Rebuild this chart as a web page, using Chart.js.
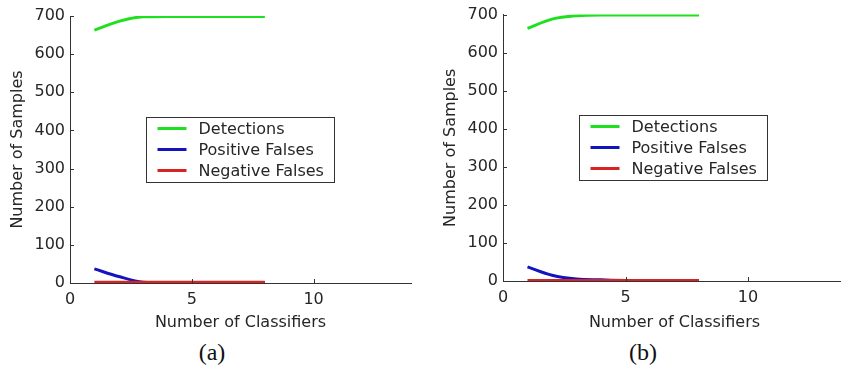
<!DOCTYPE html>
<html>
<head>
<meta charset="utf-8">
<script src="https://cdn.jsdelivr.net/npm/chart.js@4.4.1/dist/chart.umd.min.js"></script>
<style>
  html, body { margin: 0; padding: 0; background: #fff; overflow: hidden; width: 841px; height: 373px; }
  .panel { position: absolute; top: 0; height: 373px; overflow: hidden; }
  .caption { position: absolute; font-family: "Liberation Serif", serif; font-size: 24px; color: #111; transform: translateX(-50%); }
</style>
</head>
<body>
<div class="panel" style="left:0;width:420px;">
  <canvas id="plotA" width="420" height="335"></canvas>
</div>
<div class="panel" style="left:420px;width:421px;">
  <canvas id="plotB" width="430" height="335"></canvas>
</div>
<div class="caption" style="left:212px;top:339px;">(a)</div>
<div class="caption" style="left:643px;top:339px;">(b)</div>
<script>
// data
var classifiers = [1, 2, 3, 4, 5, 6, 7, 8];
var seriesNames = ["Detections", "Positive Falses", "Negative Falses"];
var seriesColors = ["rgb(30,225,30)", "rgb(20,20,190)", "rgb(215,35,35)"];

var detectionsA = [663, 686, 698, 699, 699, 699, 699, 699];
var posFalsesA = [37, 17, 2, 0, 0, 0, 0, 0];
var negFalsesA = [2, 2, 2, 2, 2, 2, 2, 2];

var detectionsB = [664, 688, 697, 699, 699, 699, 699, 699];
var posFalsesB = [37, 15, 5, 3, 1, 0, 0, 0];
var negFalsesB = [1, 1, 1, 1, 1, 1, 1, 1];

var xTicks = [0, 5, 10];
var yTicks = [0, 100, 200, 300, 400, 500, 600, 700];

var textColor = "#262626";
var fontFamily = "'DejaVu Sans', sans-serif";

function toPoints(ys) {
    return classifiers.map(function (x, i) { return { x: x, y: ys[i] }; });
}

// inward tick marks
var innerTicks = {
    id: 'innerTicks',
    afterDraw: function (chart) {
        var ctx = chart.ctx;
        var xs = chart.scales.x, ys = chart.scales.y;
        var area = chart.chartArea;
        ctx.save();
        ctx.strokeStyle = "#333";
        ctx.lineWidth = 1;
        ctx.beginPath();
        xTicks.forEach(function (v) {
            var px = Math.round(xs.getPixelForValue(v)) + 0.5;
            ctx.moveTo(px, area.bottom);
            ctx.lineTo(px, area.bottom - 4);
        });
        yTicks.forEach(function (v) {
            var py = Math.round(ys.getPixelForValue(v)) + 0.5;
            ctx.moveTo(area.left, py);
            ctx.lineTo(area.left + 4, py);
        });
        ctx.stroke();
        ctx.restore();
    }
};

// boxed legend inside the plot
var boxLegend = {
    id: 'boxLegend',
    afterDraw: function (chart) {
        var ctx = chart.ctx;
        var area = chart.chartArea;
        var left = Math.round(area.left + 0.222 * (area.right - area.left)) + 0.5;
        var top = Math.round(area.top + 0.378 * (area.bottom - area.top)) + 0.5;
        ctx.save();
        ctx.font = "16px " + fontFamily;
        var widest = 0;
        chart.data.datasets.forEach(function (ds) {
            widest = Math.max(widest, ctx.measureText(ds.label).width);
        });
        var w = Math.round(52 + widest + 11), h = 65;
        ctx.fillStyle = "#fff";
        ctx.fillRect(left, top, w, h);
        ctx.strokeStyle = "#333";
        ctx.lineWidth = 1;
        ctx.strokeRect(left, top, w, h);
        ctx.textBaseline = "middle";
        chart.data.datasets.forEach(function (ds, i) {
            var cy = top + 11 + i * 21;
            ctx.strokeStyle = ds.borderColor;
            ctx.lineWidth = 3;
            ctx.beginPath();
            ctx.moveTo(left + 11, cy);
            ctx.lineTo(left + 40, cy);
            ctx.stroke();
            ctx.fillStyle = textColor;
            ctx.fillText(ds.label, left + 52, cy + 1);
        });
        ctx.restore();
    }
};

function makeChart(canvasId, series, geom) {
    var datasets = series.map(function (ys, i) {
        return {
            label: seriesNames[i],
            data: toPoints(ys),
            borderColor: seriesColors[i],
            borderWidth: 3,
            pointRadius: 0,
            fill: false,
            cubicInterpolationMode: 'monotone',
            order: [2, 1, 0][i]
        };
    });
    return new Chart(document.getElementById(canvasId).getContext("2d"), {
        type: 'line',
        data: { datasets: datasets },
        plugins: [innerTicks, boxLegend],
        options: {
            responsive: false,
            animation: false,
            layout: { padding: { top: geom.top, right: geom.right, left: 0, bottom: 0 } },
            plugins: { legend: { display: false }, tooltip: { enabled: false } },
            scales: {
                x: {
                    type: 'linear',
                    min: 0,
                    max: 14,
                    afterFit: function (s) { s.height = geom.xHeight; },
                    afterBuildTicks: function (s) { s.ticks = xTicks.map(function (v) { return { value: v }; }); },
                    grid: { display: true, drawOnChartArea: false, drawTicks: false },
                    border: { display: true, color: "#333", width: 1 },
                    ticks: { color: textColor, padding: 7, font: { family: fontFamily, size: 16 } },
                    title: {
                        display: true,
                        text: "Number of Classifiers",
                        color: textColor,
                        padding: { top: 0, bottom: 3 },
                        font: { family: fontFamily, size: 16 }
                    }
                },
                y: {
                    min: 0,
                    max: 700,
                    afterFit: function (s) { s.width = geom.yWidth; },
                    afterBuildTicks: function (s) { s.ticks = yTicks.map(function (v) { return { value: v }; }); },
                    grid: { display: true, drawOnChartArea: false, drawTicks: false },
                    border: { display: true, color: "#333", width: 1 },
                    ticks: { color: textColor, padding: 5, font: { family: fontFamily, size: 16 } },
                    title: {
                        display: true,
                        text: "Number of Samples",
                        color: textColor,
                        padding: { top: geom.yTitlePad, bottom: 0 },
                        font: { family: fontFamily, size: 16 }
                    }
                }
            }
        }
    });
}

var chartA = makeChart("plotA", [detectionsA, posFalsesA, negFalsesA],
    { top: 16, right: 9, xHeight: 52, yWidth: 70, yTitlePad: 8 });
var chartB = makeChart("plotB", [detectionsB, posFalsesB, negFalsesB],
    { top: 13, right: 4, xHeight: 54, yWidth: 83, yTitlePad: 21 });
</script>
</body>
</html>
